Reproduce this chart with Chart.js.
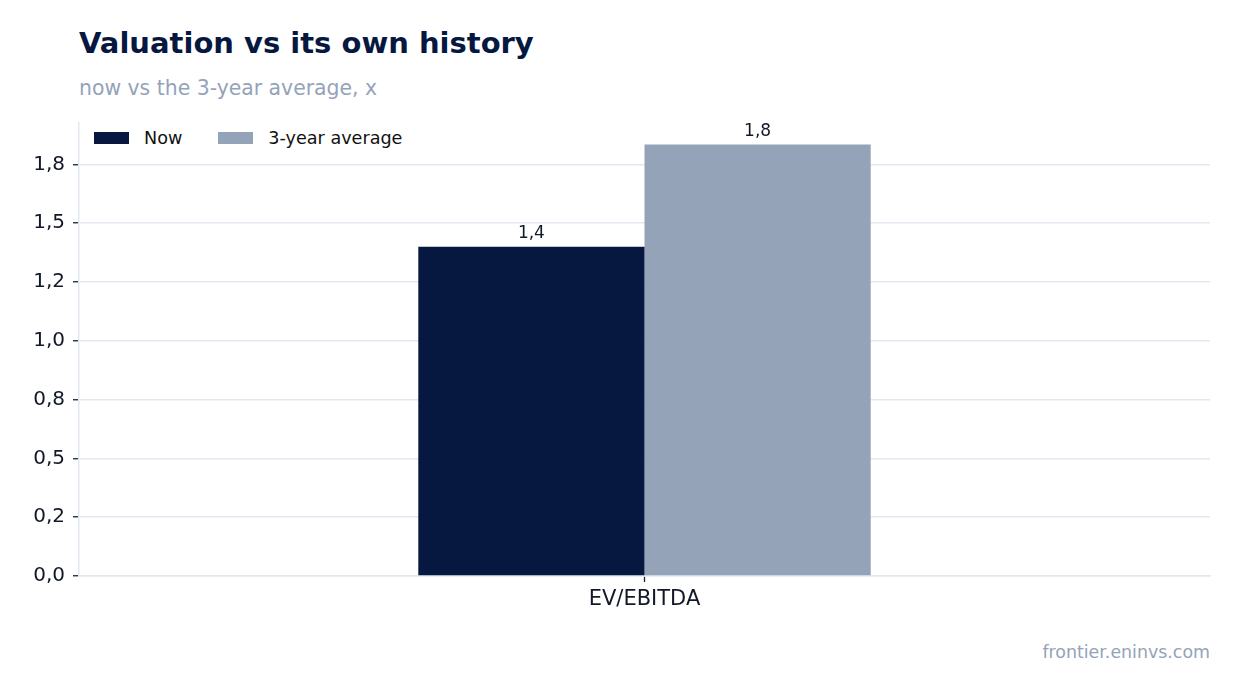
<!DOCTYPE html>
<html>
<head>
<meta charset="utf-8">
<script src="https://cdn.jsdelivr.net/npm/chart.js@4.4.1/dist/chart.umd.min.js"></script>
<style>
  html, body { margin: 0; padding: 0; background: #fff; }
  body { width: 1241px; height: 693px; position: relative; overflow: hidden; font-family: 'DejaVu Sans', sans-serif; }
  #title { position: absolute; left: 79px; top: 26px; font-size: 29px; font-weight: bold; color: #061840; }
  #subtitle { position: absolute; left: 79px; top: 76px; font-size: 20.4px; color: #94a3b8; }
  #footer { position: absolute; right: 31px; top: 642px; font-size: 17.4px; color: #94a3b8; }
  #legend { position: absolute; left: 94px; top: 127px; display: flex; align-items: center; font-size: 17.6px; color: #111; height: 22px; }
  #legend .sw { width: 35px; height: 12px; display: inline-block; margin-right: 15px; }
  #legend .item { display: flex; align-items: center; margin-right: 36px; }
  #wrap { position: absolute; left: 0; top: 0; width: 1241px; height: 693px; }
</style>
</head>
<body>
<div id="title">Valuation vs its own history</div>
<div id="subtitle">now vs the 3-year average, x</div>
<div id="legend"></div>
<div id="footer">frontier.eninvs.com</div>
<div id="wrap"><canvas id="chart"></canvas></div>
<script>
const categories = ['EV/EBITDA'];
const seriesNames = ['Now', '3-year average'];
const nowValues = [1.40];
const avgValues = [1.834];
const seriesColors = ['#061840', '#94a3b8'];
const yTickValues = [0, 0.25, 0.5, 0.75, 1.0, 1.25, 1.5, 1.75];
const yTickLabels = ['0,0', '0,2', '0,5', '0,8', '1,0', '1,2', '1,5', '1,8'];
const valueLabels = [['1,4'], ['1,8']];

// ── LEGEND ──
document.getElementById('legend').innerHTML = seriesNames.map((n, i) =>
  `<span class="item"><span class="sw" style="background:${seriesColors[i]}"></span>${n}</span>`
).join('');

// bar value labels
const barLabels = {
  id: 'barLabels',
  afterDatasetsDraw(chart) {
    const ctx = chart.ctx;
    ctx.save();
    ctx.font = '17px "DejaVu Sans"';
    ctx.fillStyle = '#111827';
    ctx.textAlign = 'center';
    ctx.textBaseline = 'alphabetic';
    chart.data.datasets.forEach((ds, di) => {
      chart.getDatasetMeta(di).data.forEach((bar, i) => {
        ctx.fillText(valueLabels[di][i], bar.x, bar.y - 9);
      });
    });
    ctx.restore();
  }
};

const maxVal = Math.max(...nowValues, ...avgValues) * 1.05;

new Chart(document.getElementById('chart').getContext('2d'), {
  type: 'bar',
  data: {
    labels: categories,
    datasets: [
      { label: seriesNames[0], data: nowValues, backgroundColor: seriesColors[0], barPercentage: 1, categoryPercentage: 0.4 },
      { label: seriesNames[1], data: avgValues, backgroundColor: seriesColors[1], barPercentage: 1, categoryPercentage: 0.4 },
    ],
  },
  options: {
    responsive: true,
    maintainAspectRatio: false,
    animation: false,
    layout: { padding: { top: 123, right: 31, left: 0, bottom: 0 } },
    plugins: { legend: { display: false }, tooltip: { enabled: false } },
    scales: {
      x: {
        afterFit: s => { s.height = 117; },
        grid: { display: true, offset: false, drawOnChartArea: false, drawTicks: true, tickLength: 6, tickColor: '#1a2035', tickWidth: 1.3 },
        border: { color: '#e2e8f0', width: 1.5 },
        ticks: { color: '#111827', font: { family: 'DejaVu Sans', size: 21 }, padding: 5 },
      },
      y: {
        min: 0,
        max: maxVal,
        afterFit: s => { s.width = 79; },
        afterBuildTicks: s => { s.ticks = yTickValues.map(v => ({ value: v })); },
        grid: { color: '#e2e8f0', lineWidth: 1.5, tickLength: 6, tickColor: '#1a2035', tickWidth: 1.3 },
        border: { color: '#e2e8f0', width: 1.5 },
        ticks: {
          color: '#111827',
          font: { family: 'DejaVu Sans', size: 20 },
          padding: 8,
          callback: (v, i) => yTickLabels[i],
        },
      },
    },
  },
  plugins: [barLabels],
});
</script>
</body>
</html>
